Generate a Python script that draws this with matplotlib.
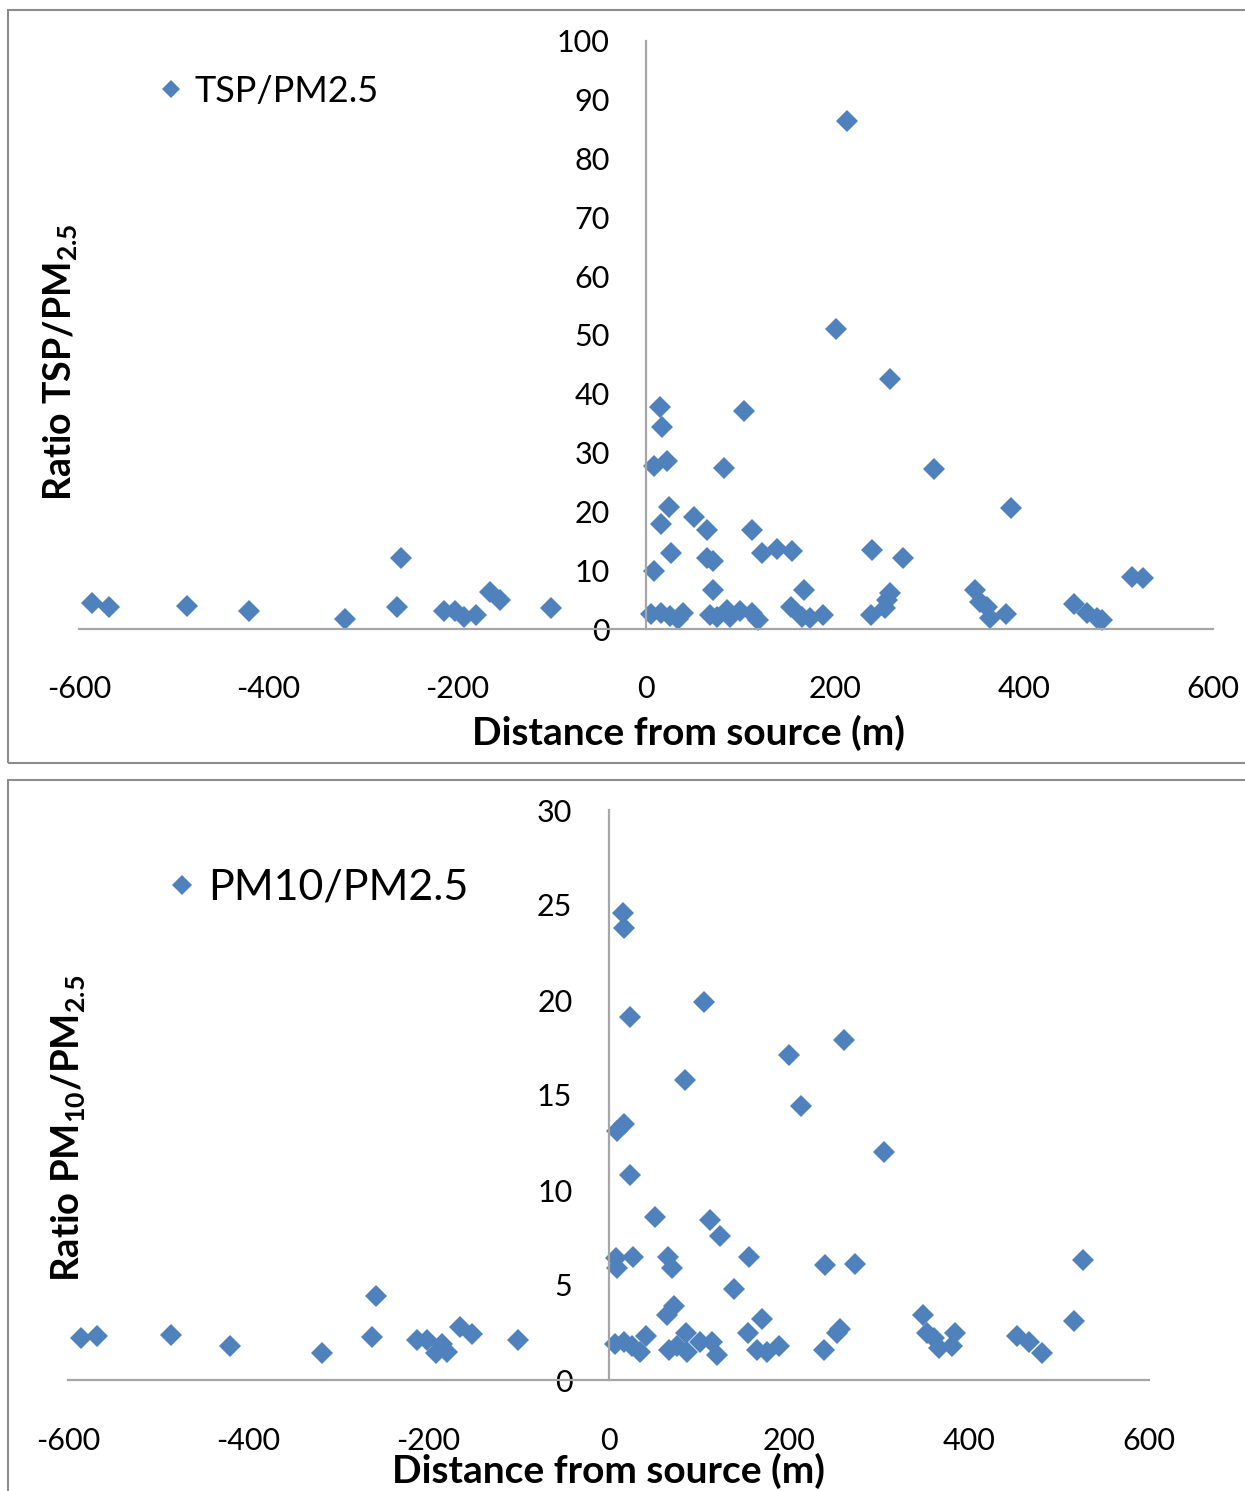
import matplotlib
matplotlib.use("Agg")
import matplotlib.pyplot as plt
from matplotlib.patches import Rectangle
from matplotlib.lines import Line2D

# ---------------- data ----------------
tsp_dist = [-586, -568, -486, -420, -319, -263, -259, -214, -202, -193, -180, -165, -155, -101,
            5, 8, 8.5, 15, 16, 16, 17, 22.6, 24.3, 25.4, 26.8, 34.2, 39.5, 51, 65, 65, 67.7,
            71.3, 71.3, 75.5, 82.5, 85.4, 88.9, 99.5, 104, 111.8, 112, 118.8, 123, 138.3,
            153, 154.8, 164.7, 167.5, 173.5, 187.6, 200.7, 212.4, 237.8, 239.5, 252.9, 254.7,
            258.2, 258.5, 272.3, 304.8, 348, 353.4, 360.5, 364, 381, 385.9, 453, 466.3, 476.9,
            482.2, 514.6, 526.3]
tsp_ratio = [4.4, 3.7, 3.9, 3.0, 1.7, 3.8, 12.0, 3.0, 3.0, 2.1, 2.3, 6.3, 4.9, 3.5,
             2.5, 9.9, 27.8, 37.8, 2.7, 17.8, 34.3, 28.6, 20.8, 2.2, 13.0, 1.7, 2.7, 19.0, 16.8,
             12.1, 2.3, 11.6, 6.7, 2.0, 27.3, 3.2, 2.1, 3.1, 37.1, 2.7, 16.9, 1.6, 13.0, 13.6,
             3.8, 13.3, 2.0, 6.6, 1.8, 2.3, 51.0, 86.4, 2.3, 13.4, 3.6, 4.9,
             6.1, 42.6, 12.0, 27.2, 6.7, 4.6, 3.8, 1.9, 2.6, 20.5, 4.3, 2.8, 1.8,
             1.5, 8.8, 8.6]

pm10_dist = [-586, -568, -486, -420, -318, -262, -258, -213, -202, -191, -179, -185, -165, -152, -100,
             6.7, 7.8, 9.6, 9.6, 15.9, 17, 17, 17, 24.4, 24.4, 26.3, 27.4, 35.5, 41.1, 51.4,
             65.1, 65.8, 66.9, 70.7, 72.5, 76.2, 84.4, 85.5, 87.3, 102, 105.8, 112.5, 115,
             119.9, 124.3, 139.8, 154.6, 155.7, 165, 170, 176, 189, 200, 213.8, 239, 240.8,
             253.8, 257.5, 261, 273.4, 306, 349, 353.7, 361, 366.6, 381.4, 385, 453.6, 466.5,
             481.3, 516.5, 526.4]
pm10_ratio = [2.2, 2.3, 2.35, 1.8, 1.4, 2.25, 4.4, 2.1, 2.1, 1.4, 1.5, 1.9, 2.8, 2.4, 2.1,
              1.9, 6.4, 5.9, 13.1, 24.6, 23.8, 13.5, 2.0, 19.1, 10.8, 1.8, 6.5, 1.5, 2.3, 8.6,
              3.4, 6.5, 1.6, 5.9, 3.9, 1.8, 15.8, 2.5, 1.5, 2.0, 19.9, 8.4, 2.0,
              1.3, 7.6, 4.8, 2.5, 6.5, 1.6, 3.2, 1.5, 1.8, 17.1, 14.4, 1.6, 6.05,
              2.5, 2.7, 17.9, 6.1, 12.0, 3.4, 2.5, 2.2, 1.7, 1.8, 2.5, 2.3, 2.0,
              1.4, 3.1, 6.3]

x_ticks = [-600, -400, -200, 0, 200, 400, 600]
tsp_yticks = [0, 10, 20, 30, 40, 50, 60, 70, 80, 90, 100]
pm10_yticks = [0, 5, 10, 15, 20, 25, 30]

# ---------------- style ----------------
W, H = 1245, 1491
plt.rcParams['font.family'] = ['Lato', 'DejaVu Sans']
plt.rcParams['mathtext.default'] = 'regular'
plt.rcParams['axes.unicode_minus'] = False
BLUE = '#4F81BD'
AXGRAY = '#A6A6A6'
FRAME = '#8C8C8C'

fig = plt.figure(figsize=(W / 100, H / 100), dpi=100)


def fx(px):
    return px / W


def fy(py):
    return 1 - py / H


# outer frames
fig.patches.append(Rectangle((fx(8), fy(763)), fx(1260) - fx(8), fy(10) - fy(763),
                             transform=fig.transFigure, fill=False, edgecolor=FRAME, lw=1.5))
fig.patches.append(Rectangle((fx(8), fy(1520)), fx(1260) - fx(8), fy(780) - fy(1520),
                             transform=fig.transFigure, fill=False, edgecolor=FRAME, lw=1.5))


def make_axes(x0, x1, y0, y1, ymax, yticks, xs, ys, ylab_pad, xlab_pad, msize):
    ax = fig.add_axes([fx(x0), fy(y0), fx(x1) - fx(x0), fy(y1) - fy(y0)])
    ax.set_xlim(-600, 600)
    ax.set_ylim(0, ymax)
    ax.plot(xs, ys, linestyle='none', marker='D', color=BLUE, markersize=msize,
            markeredgewidth=0, clip_on=False)
    for s in ['top', 'right']:
        ax.spines[s].set_visible(False)
    ax.spines['left'].set_position(('data', 0))
    for s in ['left', 'bottom']:
        ax.spines[s].set_color(AXGRAY)
        ax.spines[s].set_linewidth(1.6)
    ax.set_xticks(x_ticks)
    ax.set_yticks(yticks)
    ax.tick_params(axis='both', length=0, labelsize=22, colors='black')
    ax.tick_params(axis='y', pad=ylab_pad)
    ax.tick_params(axis='x', pad=xlab_pad)
    ax.set_facecolor('none')
    return ax


ax1 = make_axes(79, 1213, 629, 41, 100, tsp_yticks, tsp_dist, tsp_ratio, 26, 33, 11.5)
ax2 = make_axes(68, 1149, 1380, 810, 30, pm10_yticks, pm10_dist, pm10_ratio, 26, 34, 11.5)

# legends
ax1.legend([Line2D([], [], linestyle='none', marker='D', color=BLUE, markersize=9, markeredgewidth=0)],
           ['TSP/PM2.5'], loc='center left', bbox_to_anchor=(fx(157), fy(91)),
           bbox_transform=fig.transFigure, frameon=False, fontsize=26, handlelength=0.8,
           handletextpad=0.25, borderpad=0, borderaxespad=0)
ax2.legend([Line2D([], [], linestyle='none', marker='D', color=BLUE, markersize=10, markeredgewidth=0)],
           ['PM10/PM2.5'], loc='center left', bbox_to_anchor=(fx(165), fy(888)),
           bbox_transform=fig.transFigure, frameon=False, fontsize=31, handlelength=0.8,
           handletextpad=0.2, borderpad=0, borderaxespad=0)

# axis titles
fig.text(fx(689), fy(733), 'Distance from source (m)', ha='center', va='center',
         fontsize=28, fontweight='bold')
fig.text(fx(608), fy(1471), 'Distance from source (m)', ha='center', va='center',
         fontsize=28, fontweight='bold')
fig.text(fx(60), fy(362), 'Ratio TSP/PM$_{2.5}$', ha='center', va='center', rotation=90,
         fontsize=27, fontweight='bold')
fig.text(fx(68), fy(1128), 'Ratio PM$_{10}$/PM$_{2.5}$', ha='center', va='center', rotation=90,
         fontsize=27.5, fontweight='bold')

fig.savefig('out.png', dpi=100)
